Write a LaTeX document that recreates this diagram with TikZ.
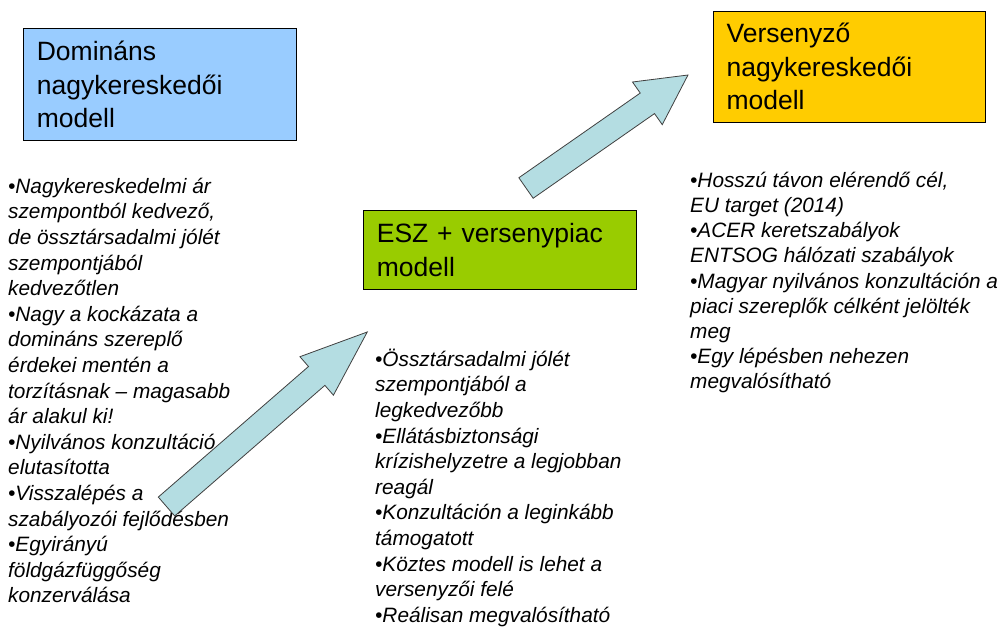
\documentclass[tikz,border=0pt]{standalone}
\usepackage{fontspec}
\setmainfont{Liberation Sans}
\definecolor{dominansblue}{RGB}{153,204,255}
\definecolor{eszgreen}{RGB}{153,204,0}
\definecolor{versenyyellow}{RGB}{255,204,0}
\definecolor{arrowcyan}{RGB}{180,221,226}
\newcommand{\firstline}{\rule{0pt}{20pt}}
\tikzset{
  modelbox/.style={draw=black, line width=1.1pt, anchor=north west, align=left,
    text width=247pt, inner xsep=13pt, inner ysep=0pt,
    font=\fontsize{26.5}{33.5}\selectfont},
  pointlist/.style={anchor=north west, align=left, inner sep=0pt,
    font=\fontsize{20.8}{25.6}\selectfont\itshape},
  bigarrow/.style={fill=arrowcyan, draw=black!75, line width=0.8pt, line join=miter}
}
\begin{document}
\begin{tikzpicture}[x=1pt, y=1pt]
    \useasboundingbox (0,0) rectangle (1003,-628);
    % the three models
    \node[modelbox, fill=dominansblue, minimum height=111.7pt] (dominans) at (23.3,-28.3)
        {Domináns\\nagykereskedői\\modell};
    \node[modelbox, fill=eszgreen, minimum height=79.3pt] (esz) at (363.3,-210)
        {ESZ + versenypiac\\modell};
    \node[modelbox, fill=versenyyellow, text width=246pt, minimum height=111pt] (verseny) at (713,-10.7)
        {Versenyző\\nagykereskedői\\modell};
    % what speaks for and against them
    \node[pointlist] (dominanspoints) at (8,-173)
        {\firstline•Nagykereskedelmi ár\\szempontból kedvező,\\de össztársadalmi jólét\\szempontjából\\kedvezőtlen\\
         •Nagy a kockázata a\\domináns szereplő\\érdekei mentén a\\torzításnak – magasabb\\ár alakul ki!\\
         •Nyilvános konzultáció\\elutasította\\•Visszalépés a\\szabályozói fejlődésben\\
         •Egyirányú\\földgázfüggőség\\konzerválása};
    \node[pointlist] (eszpoints) at (375,-346)
        {\firstline•Össztársadalmi jólét\\szempontjából a\\legkedvezőbb\\•Ellátásbiztonsági\\
         krízishelyzetre a legjobban\\reagál\\•Konzultáción a leginkább\\támogatott\\
         •Köztes modell is lehet a\\versenyzői felé\\•Reálisan megvalósítható};
    \node[pointlist, font=\fontsize{20.8}{25.2}\selectfont\itshape] (versenypoints) at (690,-167)
        {\firstline•Hosszú távon elérendő cél,\\EU target (2014)\\•ACER keretszabályok\\
         ENTSOG hálózati szabályok\\•Magyar nyilvános konzultáción a\\piaci szereplők célként jelölték\\
         meg\\•Egy lépésben nehezen\\megvalósítható};
    % the two steps
    \begin{scope}[shift={(166.5,-506.5)}, rotate=41]
        \draw[bigarrow] (0,-12.5) -- (199,-12.5) -- (199,-25.5) -- (266,0)
            -- (199,25.5) -- (199,12.5) -- (0,12.5) -- cycle;
    \end{scope}
    \begin{scope}[shift={(526,-188)}, rotate=34.9]
        \draw[bigarrow] (0,-12.5) -- (148,-12.5) -- (148,-26) -- (197.5,0)
            -- (148,26) -- (148,12.5) -- (0,12.5) -- cycle;
    \end{scope}
\end{tikzpicture}
\end{document}
